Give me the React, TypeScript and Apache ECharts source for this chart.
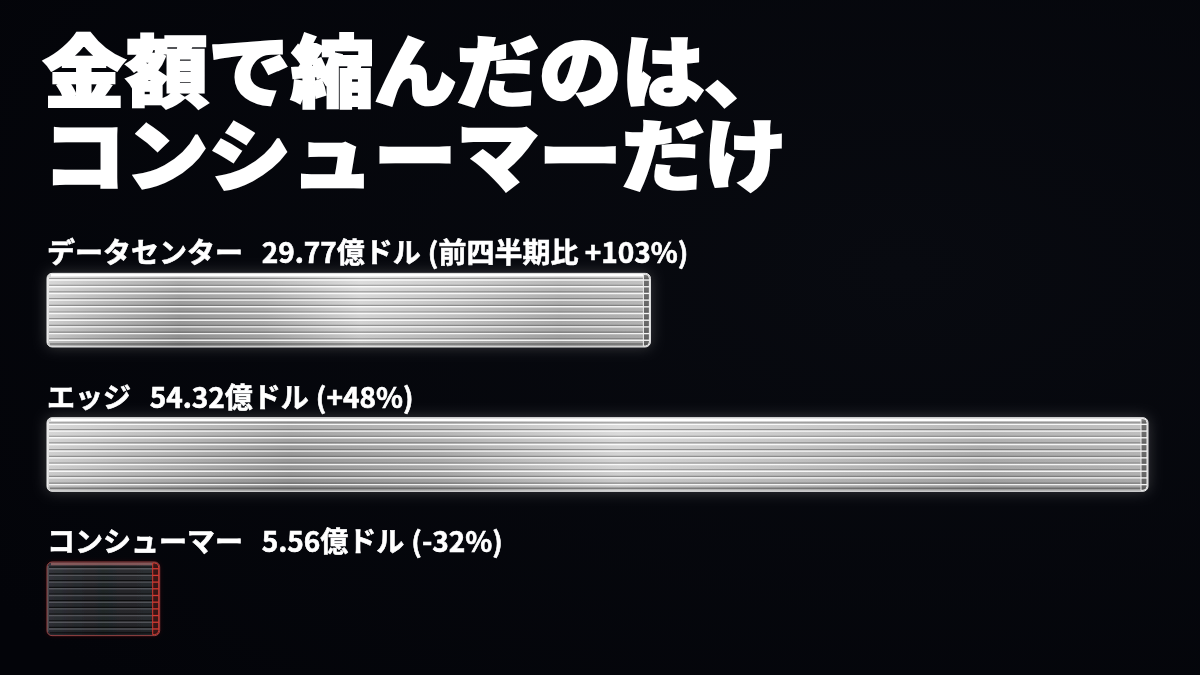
import React, { useEffect, useRef } from "react";
import * as echarts from "echarts";

const titleLines = ["金額で縮んだのは、", "コンシューマーだけ"];
const categories = ["データセンター", "エッジ", "コンシューマー"];
const revenue = [29.77, 54.32, 5.56]; // 億ドル
const qoqChange = [103, 48, -32]; // %
const changePrefix = ["前四半期比 ", "", ""];

const FONT = '"Noto Sans CJK JP", "Noto Sans", sans-serif';

function labelText(i: number) {
  const c = qoqChange[i];
  const sign = c >= 0 ? "+" : "-";
  return `${categories[i]}\u2002\u2006${revenue[i].toFixed(2)}億ドル\u2005(${changePrefix[i]}${sign}${Math.abs(c)}%)`;
}

export default function App() {
  const ref = useRef<HTMLDivElement>(null);
  useEffect(() => {
    if (!ref.current) return;
    const chart = echarts.init(ref.current, undefined, { renderer: "svg" });
    const data = revenue.map((v, i) => [v, i]);

    const renderItem = (params: any, api: any) => {
      const idx = params.dataIndex;
      const v = api.value(0);
      const cat = api.value(1);
      const start = api.coord([0, cat]);
      const end = api.coord([v, cat]);
      const band = api.size([0, 1])[1];
      const h = band * 0.51;
      const x0 = start[0];
      const x1 = end[0];
      const w = x1 - x0;
      const y0 = start[1] - h / 2;
      const neg = qoqChange[idx] < 0;
      const children: any[] = [];

      const fill = neg
        ? new echarts.graphic.LinearGradient(0, 0, 1, 0, [
            { offset: 0, color: "#2a2c31" },
            { offset: 0.5, color: "#1e2024" },
            { offset: 1, color: "#25272b" },
          ])
        : new echarts.graphic.LinearGradient(0, 0, 1, 0, [
            { offset: 0, color: "#d0d0d0" },
            { offset: 0.07, color: "#bcbcbc" },
            { offset: 0.22, color: "#979797" },
            { offset: 0.36, color: "#aaaaaa" },
            { offset: 0.52, color: "#d4d4d4" },
            { offset: 0.68, color: "#c0c0c0" },
            { offset: 0.85, color: "#a8a8a8" },
            { offset: 1, color: "#b4b4b4" },
          ]);

      children.push({
        type: "rect",
        shape: { x: x0, y: y0, width: w, height: h, r: 5 },
        style: {
          fill,
          stroke: neg ? "rgba(170,70,70,0.85)" : "#ececec",
          lineWidth: 1,
          shadowBlur: neg ? 4 : 14,
          shadowColor: neg ? "rgba(200,40,40,0.18)" : "rgba(255,255,255,0.2)",
        },
      });
      // vertical sheen
      children.push({
        type: "rect",
        shape: { x: x0 + 1, y: y0 + 1, width: w - 2, height: h - 2, r: 4 },
        style: {
          fill: new echarts.graphic.LinearGradient(0, 0, 0, 1, [
            { offset: 0, color: neg ? "rgba(255,255,255,0.06)" : "rgba(255,255,255,0.25)" },
            { offset: 0.5, color: "rgba(255,255,255,0)" },
            { offset: 1, color: "rgba(0,0,0,0.1)" },
          ]),
        },
      });
      // stripes
      const n = 11;
      for (let k = 1; k < n; k++) {
        const y = y0 + (h * k) / n;
        children.push({
          type: "line",
          shape: { x1: x0 + 2, y1: y - 1.5, x2: x1 - 2, y2: y - 1.5 },
          style: { stroke: neg ? "rgba(0,0,0,0.65)" : "rgba(70,70,70,0.45)", lineWidth: 1.2 },
        });
        children.push({
          type: "line",
          shape: { x1: x0 + 2, y1: y, x2: x1 - 2, y2: y },
          style: { stroke: neg ? "rgba(160,160,168,0.35)" : "rgba(255,255,255,0.85)", lineWidth: 1.4 },
        });
      }
      // top highlight
      children.push({
        type: "line",
        shape: { x1: x0 + 4, y1: y0 + 2, x2: x1 - 4, y2: y0 + 2 },
        style: { stroke: neg ? "rgba(200,120,120,0.55)" : "rgba(255,255,255,1)", lineWidth: 2.5 },
      });
      // bottom dark band
      children.push({
        type: "line",
        shape: { x1: x0 + 3, y1: y0 + h - 3, x2: x1 - 3, y2: y0 + h - 3 },
        style: { stroke: neg ? "rgba(0,0,0,0.5)" : "rgba(60,60,60,0.5)", lineWidth: 1.5 },
      });
      // end cap
      const capW = 7;
      children.push({
        type: "rect",
        shape: { x: x1 - capW, y: y0 + 1, width: capW - 1, height: h - 2, r: [0, 4, 4, 0] },
        style: {
          fill: neg ? "rgba(60,20,20,0.9)" : "rgba(80,80,80,0.75)",
          stroke: neg ? "#d23a32" : "#efefef",
          lineWidth: 1,
        },
      });
      for (let k = 1; k < n; k++) {
        const y = y0 + (h * k) / n;
        children.push({
          type: "line",
          shape: { x1: x1 - capW, y1: y, x2: x1 - 1, y2: y },
          style: { stroke: neg ? "#d23a32" : "#f4f4f4", lineWidth: 1.3 },
        });
      }
      // left edge
      children.push({
        type: "line",
        shape: { x1: x0 + 1, y1: y0 + 4, x2: x0 + 1, y2: y0 + h - 4 },
        style: { stroke: neg ? "rgba(150,150,150,0.5)" : "rgba(255,255,255,0.7)", lineWidth: 1 },
      });
      // label above bar
      children.push({
        type: "text",
        style: {
          text: labelText(idx),
          x: x0,
          y: y0 - 22,
          fill: "#ffffff",
          stroke: "#ffffff",
          lineWidth: 0.6,
          fontSize: 28,
          fontWeight: "bold",
          fontFamily: FONT,
          align: "left",
          verticalAlign: "middle",
          textAlign: "left",
          textVerticalAlign: "middle",
        },
      });
      return { type: "group", children };
    };

    chart.setOption({
      animation: false,
      backgroundColor: new echarts.graphic.RadialGradient(0.75, 0.4, 0.9, [
        { offset: 0, color: "#080a10" },
        { offset: 1, color: "#030409" },
      ]),
      grid: { left: 47, right: 52, top: 238, bottom: 4 },
      xAxis: {
        type: "value",
        min: 0,
        max: "dataMax",
        show: false,
      },
      yAxis: {
        type: "category",
        data: categories,
        inverse: true,
        show: false,
      },
      graphic: titleLines.map((t, i) => ({
        type: "text",
        x: 43,
        y: 67 + i * 84,
        scaleX: 1.06,
        style: {
          text: t,
          fill: "#ffffff",
          stroke: "#ffffff",
          lineWidth: 2.5,
          fontSize: 78,
          lineHeight: 80,
          fontWeight: 900,
          fontFamily: FONT,
          align: "left",
          verticalAlign: "middle",
          textAlign: "left",
          textVerticalAlign: "middle",
        },
      })),
      series: [
        {
          type: "custom",
          renderItem,
          encode: { x: 0, y: 1 },
          data,
          clip: false,
        },
      ],
    });
    return () => chart.dispose();
  }, []);
  return (
    <div
      ref={ref}
      style={{ position: "fixed", left: 0, top: 0, width: 1200, height: 675 }}
    />
  );
}
